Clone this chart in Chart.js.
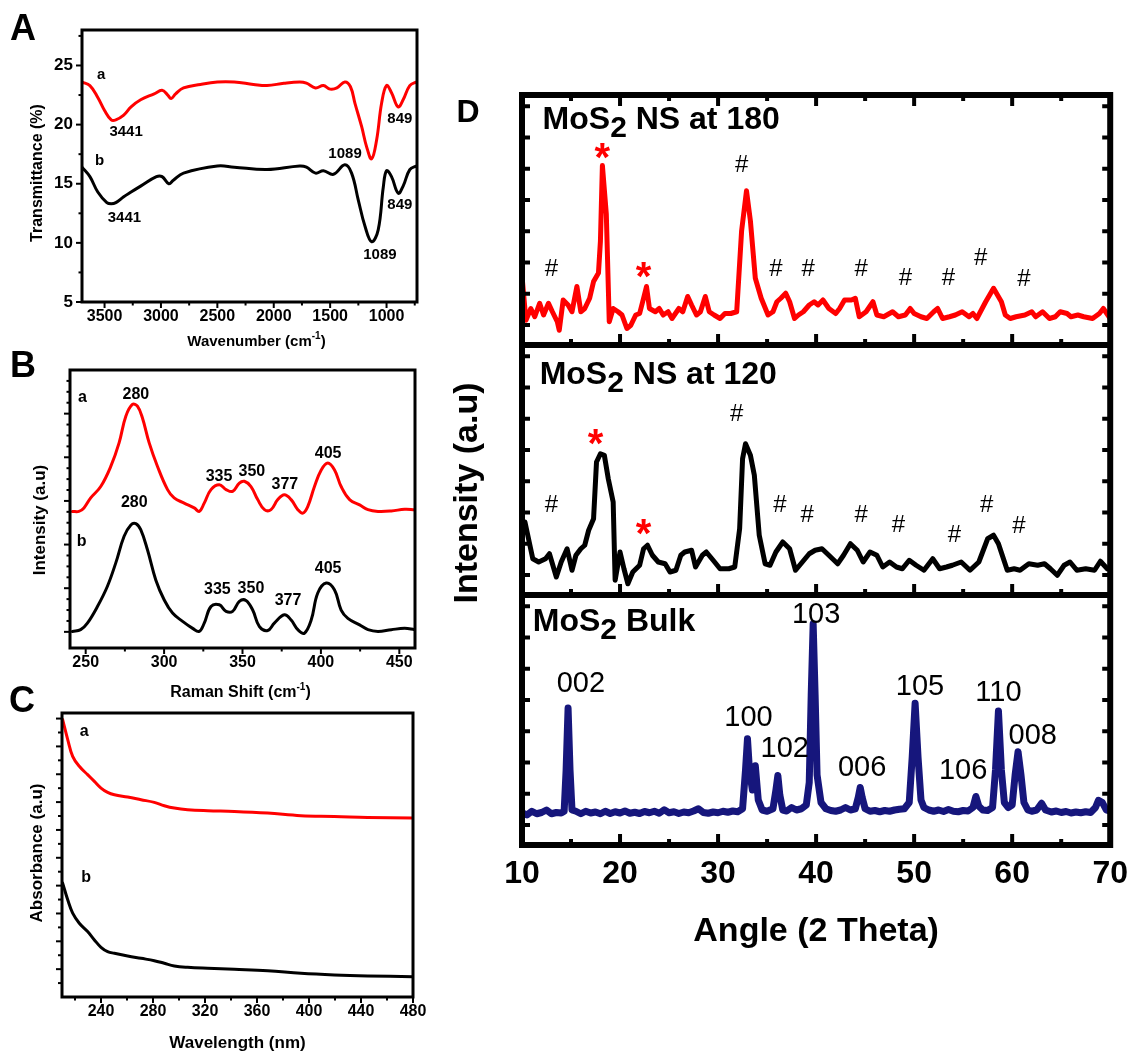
<!DOCTYPE html>
<html>
<head>
<meta charset="utf-8">
<script src="https://cdn.jsdelivr.net/npm/chart.js@4.4.0/dist/chart.umd.min.js"></script>
<style>
  html, body { margin: 0; padding: 0; background: #fff; }
  #wrap { position: relative; width: 1138px; height: 1052px; overflow: hidden; background: #fff; }
  canvas { position: absolute; }
</style>
</head>
<body>
<div id="wrap">
  <canvas id="chartA" width="440" height="360" style="left:0;top:0"></canvas>
  <canvas id="chartB" width="440" height="370" style="left:0;top:340px"></canvas>
  <canvas id="chartC" width="440" height="372" style="left:0;top:680px"></canvas>
  <canvas id="chartD" width="698" height="1052" style="left:440px;top:0"></canvas>
</div>
<script>
// ---- panel A : FTIR ----
const aWaveRed = [3700,3630,3560,3500,3441,3400,3330,3265,3180,3060,2990,2940,2910,2870,2800,2650,2500,2350,2180,2060,1910,1770,1710,1630,1560,1500,1440,1370,1320,1280,1220,1176,1132,1088,1044,1000,956,897,853,794,735,700];
const aTransRed = [23.6,23.3,22.3,21.2,20.4,20.4,20.8,21.5,22.1,22.6,22.9,22.5,22.2,22.6,23.1,23.4,23.6,23.6,23.4,23.3,23.5,23.6,23.5,23.1,23.3,23.0,23.1,23.6,23.2,21.8,19.8,18.1,17.1,18.7,21.8,23.3,22.7,21.5,22.1,23.3,23.6,23.7];
const aWaveBlack = [3700,3630,3560,3480,3441,3400,3330,3265,3180,3040,2990,2930,2890,2800,2500,2350,2060,1770,1710,1630,1560,1470,1370,1310,1250,1191,1132,1074,1029,1000,956,897,853,794,735,700];
const aTransBlack = [16.4,15.6,14.3,13.4,13.3,13.4,13.9,14.3,14.8,15.6,15.6,15.0,15.3,15.9,16.5,16.4,16.2,16.5,16.4,15.9,16.1,15.8,16.6,15.9,13.6,11.4,10.1,11.1,14.7,16.1,15.6,14.2,14.8,16.2,16.5,16.6];
const aTickX = [3500,3000,2500,2000,1500,1000];
const aMinorX = [3250,2750,2250,1750,1250,750];
const aTickY = [5,10,15,20,25];
const aMinorY = [7.5,12.5,17.5,22.5,27.5];
const aNoteText = ['a','3441','1089','849','b','3441','1089','849'];
const aNoteX = [3529,3309,1368,882,3544,3324,1059,882];
const aNoteY = [24.2,19.4,17.5,20.5,16.9,12.1,9.0,13.2];

// ---- panel B : Raman ----
const bShiftRed = [241.5,245.7,248.9,253.2,259.6,266.0,271.3,275.6,279.8,283.0,286.2,290.5,295.8,302.2,306.4,312.8,319.2,322.4,325.6,329.9,335.2,339.5,343.7,348.0,351.2,355.4,359.7,364.0,368.2,372.5,376.7,381.0,385.3,388.5,391.6,395.9,400.2,404.4,408.7,412.9,418.3,424.7,430.0,436.4,444.9,453.4,459.8];
const bIntRed = [2.76,2.76,2.84,3.07,3.33,3.79,4.33,4.94,5.21,5.17,4.90,4.33,3.79,3.26,3.07,2.95,2.84,2.76,2.95,3.26,3.37,3.26,3.22,3.41,3.45,3.33,3.03,2.80,2.80,3.03,3.14,3.03,2.80,2.72,2.87,3.33,3.71,3.87,3.71,3.33,3.03,2.91,2.80,2.76,2.77,2.81,2.80];
const bShiftBlack = [241.5,246.8,251.1,257.5,263.8,269.2,274.5,278.8,282.0,285.1,289.4,294.7,300.1,305.4,311.8,318.2,322.4,325.6,329.9,335.2,339.5,343.7,348.0,352.2,356.5,360.8,366.1,370.3,376.7,381.0,385.3,389.5,393.8,398.0,403.4,408.7,412.9,417.2,424.7,430.0,436.4,444.9,453.4,459.8];
const bIntBlack = [0.01,0.05,0.20,0.58,1.04,1.58,2.19,2.45,2.48,2.34,1.88,1.19,0.73,0.43,0.24,0.08,0.01,0.20,0.58,0.62,0.47,0.47,0.70,0.72,0.50,0.12,0.03,0.20,0.39,0.27,0.05,-0.03,0.27,0.89,1.12,0.96,0.50,0.31,0.16,0.05,0.01,0.05,0.08,0.05];
const bTickX = [250,300,350,400,450];
const bMinorX = [275,325,375,425];
const bTickY = [0,1,2,3,4,5];
const bMinorY = [0.25,0.5,0.75,1.25,1.5,1.75,2.25,2.5,2.75,3.25,3.5,3.75,4.25,4.5,4.75,5.25,5.5,5.75];
const bNoteText = ['a','280','335','350','377','405','b','280','335','350','377','405'];
const bNoteX = [248,282,335,356,377,404.6,247.4,281,334,355.4,379,404.6];
const bNoteY = [5.37,5.44,3.56,3.67,3.37,4.08,2.06,2.96,0.96,0.99,0.71,1.44];

// ---- panel C : UV-vis ----
const cWave = [210.5,214.4,218.2,223.3,229.7,234.9,240,245.1,250.3,260.5,270.8,281.0,288.7,296.4,306.6,322.0,342.6,368.2,393.8,419.5,445.1,479.7];
const cAbsRed = [19.93,18.49,17.29,16.57,15.97,15.49,15.01,14.70,14.53,14.36,14.17,13.98,13.74,13.57,13.45,13.38,13.33,13.21,13.02,12.97,12.90,12.85];
const cAbsBlack = [8.18,6.98,6.02,5.30,4.70,4.10,3.57,3.26,3.14,2.95,2.78,2.61,2.42,2.23,2.13,2.06,1.99,1.89,1.70,1.58,1.51,1.46];
const cTickX = [240,280,320,360,400,440,480];
const cMinorX = [220,260,300,340,380,420,460];
const cTickY = [2,4,6,8,10,12,14,16,18,20];
const cMinorY = [1,3,5,7,9,11,13,15,17,19];
const cNoteText = ['a','b'];
const cNoteX = [227,228.5];
const cNoteY = [19.1,8.56];

// ---- panel D : XRD (three stacked traces) ----
const dAngle180 = [10.05,10.4,10.9,11.3,11.8,12.2,12.7,13.1,13.6,13.8,14.2,14.7,15.1,15.6,16.0,16.4,16.9,17.3,17.8,18.0,18.2,18.6,18.9,19.3,19.8,20.2,20.7,21.1,21.6,22.0,22.4,22.7,23.0,23.6,24.0,24.4,24.9,25.3,26.0,26.4,26.9,27.3,27.8,28.2,28.7,29.1,29.6,30.2,30.7,31.3,31.9,32.4,32.9,33.3,33.8,34.4,35.1,35.6,36.0,36.4,36.9,37.3,37.8,38.2,38.7,39.3,39.8,40.2,40.7,41.3,42.0,42.4,42.9,43.6,44.0,44.4,45.1,45.8,46.2,46.9,47.8,48.4,49.1,49.6,50.0,50.7,51.3,52.0,52.4,52.9,53.6,54.2,54.9,55.6,56.0,56.4,57.3,58.1,58.9,59.3,59.8,60.4,61.3,62.0,62.4,63.1,63.8,64.4,64.9,65.6,66.0,66.7,67.3,68.2,68.9,69.3,70.0];
const dInt180 = [25.4,9.9,14.6,11.3,16.7,12.0,16.7,13.3,9.3,5.9,18.0,16.0,13.3,23.4,13.3,14.6,18.7,25.4,28.8,41.5,71.8,52.3,9.3,14.6,13.3,12.0,6.6,7.9,12.0,12.6,18.7,23.4,14.6,13.3,14.6,12.0,13.3,10.6,14.6,13.3,19.4,16.0,12.0,13.3,19.4,13.3,12.0,10.6,12.6,12.6,13.3,45.6,61.7,49.6,26.7,18.7,12.0,13.3,17.3,18.7,20.7,17.3,10.6,12.0,13.3,16.0,17.3,16.0,18.0,14.6,12.6,14.6,18.0,18.0,18.7,11.3,13.3,17.3,12.0,11.3,13.3,11.3,12.0,14.6,12.6,11.3,10.6,13.3,14.6,10.6,11.3,12.0,13.3,11.3,12.6,10.6,17.3,22.7,17.3,12.0,10.6,11.3,12.0,13.3,11.3,13.3,10.6,11.3,13.3,12.6,11.3,12.0,11.3,10.6,12.6,14.6,10.6];
const dAngle120 = [10.3,11.1,11.7,12.4,12.8,13.5,14.0,14.6,15.1,15.5,16.0,16.4,16.8,17.3,17.6,18.0,18.4,18.8,19.3,19.5,20.0,20.4,20.8,21.3,22.0,22.4,22.8,23.3,23.9,24.6,25.1,25.7,26.2,26.6,27.3,27.7,28.4,28.8,29.5,30.2,31.1,31.7,32.2,32.5,32.8,33.3,33.7,34.2,34.8,35.3,35.9,36.6,37.3,37.9,38.6,39.3,39.9,40.6,41.3,42.2,42.8,43.5,44.2,44.8,45.5,46.2,46.8,47.5,48.2,48.8,49.5,50.2,51.0,51.9,52.6,53.3,53.9,54.8,55.7,56.6,57.5,58.1,58.6,59.5,60.2,60.8,61.7,62.6,63.3,63.9,64.6,65.3,65.9,66.6,67.5,68.4,69.0,69.7];
const dInt120 = [29.2,14.5,13.2,14.5,16.5,7.2,13.2,18.5,9.9,15.9,18.5,19.9,25.9,30.5,53.2,56.5,55.9,46.5,37.2,5.9,17.2,10.5,4.5,9.2,11.9,18.5,19.9,15.9,13.2,12.5,9.2,9.9,15.9,17.2,17.9,11.2,15.9,17.2,13.9,10.5,10.5,11.2,26.5,54.5,60.5,55.9,47.9,23.9,12.5,11.9,17.2,21.2,18.5,9.9,13.2,16.5,17.9,18.5,15.9,12.5,15.9,20.5,17.9,13.2,17.2,15.9,11.2,13.2,11.2,10.5,13.9,11.9,9.9,14.5,10.5,11.2,11.9,13.2,9.9,13.2,22.5,23.9,20.5,9.9,10.5,9.9,12.5,11.9,12.5,10.5,7.9,11.9,13.2,9.9,10.5,9.9,13.5,10.5];
const dAngleBulk = [10,10.5,11,11.5,12,12.5,13,13.5,14,14.3,14.5,14.7,14.9,15.1,15.5,16,16.5,17,17.5,18,18.5,19,19.5,20,20.5,21,21.5,22,22.5,23,23.5,24,24.5,25,25.5,26,26.5,27,27.5,28,28.5,29,29.5,30,30.5,31,31.5,32,32.5,32.8,33.0,33.2,33.5,33.8,34.1,34.5,35,35.6,35.9,36.1,36.3,36.6,37,37.5,38,38.5,39,39.3,39.5,39.7,39.9,40.1,40.5,41,41.5,42,42.5,43,43.5,44,44.3,44.5,44.7,45,45.5,46,46.5,47,47.5,48,48.5,49,49.5,49.8,50.1,50.4,50.7,51,51.5,52,52.5,53,53.5,54,54.5,55,55.5,56,56.3,56.6,57,57.5,58,58.3,58.6,58.9,59.2,59.6,60,60.3,60.6,60.9,61.2,61.6,62,62.5,63,63.4,64,64.5,65,65.5,66,66.5,67,67.5,68,68.5,68.8,69.2,69.6,70];
const dIntBulk = [13,12,13.5,12.5,13,14,12.5,13,12.8,13.5,30,54.8,30,14,13.5,12.5,13.5,12.8,13.2,12.5,13.5,12.6,13.3,12.8,13.6,12.7,13.1,12.6,13.4,12.9,13.5,12.7,14.1,12.9,13.3,12.6,13.2,12.9,13.6,14.5,13,12.7,13.2,12.9,13.5,13.1,13.6,13.3,14.5,30,42.5,30,22,31.7,18,14,13.5,14.5,22,27.8,20,14,13.6,15,14,14.5,16,25,60,88.5,60,28,17,14.5,13.8,13.5,14,15,14,14.5,19,23,19,14.5,13.5,13.8,13.3,13.8,13.5,14,14.3,14.5,17,35,56.7,35,18,15,14,13.5,14,13.4,14.2,13.5,13.3,13.8,13.6,15,19.4,15.5,14,13.8,15,30,53.6,30,17,15,16,28,37.3,28,17,14,13.5,14,16.7,14,13.2,13.6,13,13.4,12.8,13.2,12.9,13.3,13,15,17.9,17,14,13.5];
const dOffsets = [200, 100, 0];           // 180 on top, 120 middle, bulk bottom
const dTickX = [10,20,30,40,50,60,70];
const dMinorX = [15,25,35,45,55,65];
const dTickY = [8,20.5,33,45.5,58,70.5,83,95.5];
const dHash180X = [13.0,32.4,35.9,39.2,44.6,49.1,53.5,56.8,61.2];
const dHash180Y = [30.2,71.8,30.2,30.2,30.2,26.6,26.6,34.7,26.2];
const dStar180X = [18.2,22.4];
const dStar180Y = [77.8,30.2];
const dHash120X = [13.0,31.9,36.3,39.1,44.6,48.4,54.1,57.4,60.7];
const dHash120Y = [36,72.4,36,32,32,28,24,36,27.6];
const dStar120X = [17.5,22.4];
const dStar120Y = [63.2,27.2];
const dPeakText = ['002','100','102','103','006','105','106','110','008'];
const dPeakX = [16.0,33.1,36.8,40.0,44.7,50.6,55.0,58.6,62.1];
const dPeakY = [64.3,50.8,38.5,92,31,63.1,29.8,60.7,43.7];

const FONT = "'Liberation Sans', Arial, Helvetica, sans-serif";
const RED = '#ff0000';
const NAVY = '#16167c';
const bold = (s) => `bold ${s}px ${FONT}`;
const normal = (s) => `${s}px ${FONT}`;
const part = (t, font, dy) => ({ t, font, dy: dy || 0 });

function drawParts(ctx, parts, x, y, align) {
  let total = 0;
  const widths = parts.map(p => { ctx.font = p.font; const w = ctx.measureText(p.t).width; total += w; return w; });
  let cx = align === 'center' ? x - total / 2 : align === 'right' ? x - total : x;
  ctx.textAlign = 'left';
  ctx.textBaseline = 'middle';
  parts.forEach((p, i) => { ctx.font = p.font; ctx.fillText(p.t, cx, y + p.dy); cx += widths[i]; });
}

// frame, ticks and annotations, drawn with the chart's own scales
function makeDecor(cfg) {
  return {
    id: 'decor',
    afterDatasetsDraw(chart) {
      const ctx = chart.ctx, a = chart.chartArea;
      const sx = chart.scales.x, sy = chart.scales.y;
      ctx.save();
      ctx.strokeStyle = '#000';
      ctx.lineCap = 'butt';
      (cfg.ticks || []).forEach(t => {
        ctx.lineWidth = t.width;
        t.values.forEach(v => {
          t.at.forEach(at => {
            ctx.beginPath();
            if (t.axis === 'x') {
              const px = sx.getPixelForValue(v);
              const py = at.edge === 'bottom' ? a.bottom : at.edge === 'top' ? a.top : sy.getPixelForValue(at.value);
              ctx.moveTo(px, py);
              ctx.lineTo(px, py + at.dir * t.len);
            } else {
              const py = sy.getPixelForValue(v);
              const px = at.edge === 'left' ? a.left : a.right;
              ctx.moveTo(px, py);
              ctx.lineTo(px + at.dir * t.len, py);
            }
            ctx.stroke();
          });
        });
      });
      ctx.lineWidth = cfg.frame;
      (cfg.hlines || []).forEach(v => {
        const py = sy.getPixelForValue(v);
        ctx.beginPath();
        ctx.moveTo(a.left, py);
        ctx.lineTo(a.right, py);
        ctx.stroke();
      });
      ctx.strokeRect(a.left, a.top, a.right - a.left, a.bottom - a.top);

      (cfg.labels || []).forEach(l => {
        ctx.fillStyle = l.color || '#000';
        drawParts(ctx, l.parts, sx.getPixelForValue(l.x), sy.getPixelForValue(l.y), l.align || 'center');
      });
      (cfg.notes || []).forEach(n => {
        const bx = n.ax === 'left' ? a.left : n.ax === 'right' ? a.right : (a.left + a.right) / 2;
        const by = n.ay === 'top' ? a.top : n.ay === 'bottom' ? a.bottom : (a.top + a.bottom) / 2;
        ctx.save();
        ctx.translate(bx + n.dx, by + n.dy);
        if (n.rotate) ctx.rotate(-Math.PI / 2);
        ctx.fillStyle = '#000';
        drawParts(ctx, n.parts, 0, 0, 'center');
        ctx.restore();
      });
      ctx.restore();
    }
  };
}

function lineSet(xs, ys, color, width, smooth, offset) {
  return {
    data: xs.map((x, i) => ({ x: x, y: ys[i] + (offset || 0) })),
    borderColor: color,
    borderWidth: width,
    pointRadius: 0,
    fill: false,
    tension: smooth ? 0.4 : 0,
    borderJoinStyle: 'round',
    borderCapStyle: 'round'
  };
}

function axis(min, max, tickValues, size, fitKey, fitValue, padding, extra) {
  return Object.assign({
    type: 'linear',
    min: min,
    max: max,
    grid: { display: false, drawTicks: false },
    border: { display: false },
    afterBuildTicks: s => { s.ticks = tickValues.map(v => ({ value: v })); },
    afterFit: s => { s[fitKey] = fitValue; },
    ticks: {
      display: size > 0,
      autoSkip: false,
      maxRotation: 0,
      color: '#000',
      padding: padding,
      font: { family: FONT, size: size || 12, weight: 'bold' },
      callback: v => String(v)
    }
  }, extra || {});
}

function baseOptions(pad, scales) {
  return {
    animation: false,
    responsive: false,
    devicePixelRatio: 1,
    layout: { padding: pad },
    plugins: { legend: { display: false }, tooltip: { enabled: false } },
    scales: scales
  };
}

function textLabels(texts, xs, ys, font, color) {
  return texts.map((t, i) => ({ parts: [part(t, font)], x: xs[i], y: ys[i], color: color }));
}

// ---------- A ----------
new Chart(document.getElementById('chartA'), {
  type: 'line',
  data: { datasets: [
    lineSet(aWaveRed, aTransRed, RED, 3, true),
    lineSet(aWaveBlack, aTransBlack, '#000', 3, true)
  ] },
  options: baseOptions({ top: 30, right: 23, left: 0, bottom: 0 }, {
    x: axis(730, 3700, aTickX, 16, 'height', 58, 5, { reverse: true }),
    y: axis(5, 28, aTickY, 17, 'width', 82, 9)
  }),
  plugins: [makeDecor({
    frame: 3,
    ticks: [
      { axis: 'x', values: aTickX, len: 6, width: 2, at: [{ edge: 'bottom', dir: 1 }] },
      { axis: 'x', values: aMinorX, len: 3.5, width: 2, at: [{ edge: 'bottom', dir: 1 }] },
      { axis: 'y', values: aTickY, len: 6, width: 2, at: [{ edge: 'left', dir: -1 }] },
      { axis: 'y', values: aMinorY, len: 3.5, width: 2, at: [{ edge: 'left', dir: -1 }] }
    ],
    labels: textLabels(aNoteText, aNoteX, aNoteY, bold(15), '#000'),
    notes: [
      { parts: [part('A', bold(36))], ax: 'left', dx: -59, ay: 'top', dy: 0 },
      { parts: [part('Wavenumber (cm', bold(15)), part('-1', bold(10), -6), part(')', bold(15))], ax: 'center', dx: 7, ay: 'bottom', dy: 40 },
      { parts: [part('Transmittance (%)', bold(16))], ax: 'left', dx: -44, ay: 'middle', dy: 7, rotate: true }
    ]
  })]
});

// ---------- B ----------
new Chart(document.getElementById('chartB'), {
  type: 'line',
  data: { datasets: [
    lineSet(bShiftRed, bIntRed, RED, 3, true),
    lineSet(bShiftBlack, bIntBlack, '#000', 3, true)
  ] },
  options: baseOptions({ top: 30, right: 25, left: 0, bottom: 0 }, {
    x: axis(240, 460, bTickX, 16, 'height', 62, 5),
    y: axis(-0.37, 6.0, bTickY, 0, 'width', 70, 0)
  }),
  plugins: [makeDecor({
    frame: 3,
    ticks: [
      { axis: 'x', values: bTickX, len: 6, width: 2, at: [{ edge: 'bottom', dir: 1 }] },
      { axis: 'x', values: bMinorX, len: 3.5, width: 2, at: [{ edge: 'bottom', dir: 1 }] },
      { axis: 'y', values: bTickY, len: 6, width: 2, at: [{ edge: 'left', dir: -1 }] },
      { axis: 'y', values: bMinorY, len: 3.5, width: 2, at: [{ edge: 'left', dir: -1 }] }
    ],
    labels: textLabels(bNoteText, bNoteX, bNoteY, bold(16), '#000'),
    notes: [
      { parts: [part('B', bold(36))], ax: 'left', dx: -47, ay: 'top', dy: -3 },
      { parts: [part('Raman Shift (cm', bold(16)), part('-1', bold(10), -6), part(')', bold(16))], ax: 'center', dx: -2, ay: 'bottom', dy: 45 },
      { parts: [part('Intensity (a.u)', bold(17))], ax: 'left', dx: -30, ay: 'middle', dy: 11, rotate: true }
    ]
  })]
});

// ---------- C ----------
new Chart(document.getElementById('chartC'), {
  type: 'line',
  data: { datasets: [
    lineSet(cWave, cAbsRed, RED, 3, true),
    lineSet(cWave, cAbsBlack, '#000', 3, true)
  ] },
  options: baseOptions({ top: 33, right: 27, left: 0, bottom: 0 }, {
    x: axis(210, 480, cTickX, 16, 'height', 55, 5),
    y: axis(0, 20.4, cTickY, 0, 'width', 62, 0)
  }),
  plugins: [makeDecor({
    frame: 3,
    ticks: [
      { axis: 'x', values: cTickX, len: 6, width: 2, at: [{ edge: 'bottom', dir: 1 }] },
      { axis: 'x', values: cMinorX, len: 3.5, width: 2, at: [{ edge: 'bottom', dir: 1 }] },
      { axis: 'y', values: cTickY, len: 6, width: 2, at: [{ edge: 'left', dir: -1 }] },
      { axis: 'y', values: cMinorY, len: 4, width: 2, at: [{ edge: 'left', dir: -1 }] }
    ],
    labels: textLabels(cNoteText, cNoteX, cNoteY, bold(16), '#000'),
    notes: [
      { parts: [part('C', bold(36))], ax: 'left', dx: -40, ay: 'top', dy: -11 },
      { parts: [part('Wavelength (nm)', bold(17))], ax: 'center', dx: 0, ay: 'bottom', dy: 46 },
      { parts: [part('Absorbance (a.u)', bold(17))], ax: 'left', dx: -25, ay: 'middle', dy: -2, rotate: true }
    ]
  })]
});

// ---------- D ----------
const dLabels = []
  .concat(dHash180X.map((x, i) => ({ parts: [part('#', normal(24))], x: x, y: dHash180Y[i] + dOffsets[0] })))
  .concat(dStar180X.map((x, i) => ({ parts: [part('*', bold(40), 9)], x: x, y: dStar180Y[i] + dOffsets[0], color: RED })))
  .concat(dHash120X.map((x, i) => ({ parts: [part('#', normal(24))], x: x, y: dHash120Y[i] + dOffsets[1] })))
  .concat(dStar120X.map((x, i) => ({ parts: [part('*', bold(40), 9)], x: x, y: dStar120Y[i] + dOffsets[1], color: RED })))
  .concat(textLabels(dPeakText, dPeakX, dPeakY.map(v => v + dOffsets[2]), normal(29), '#000'))
  .concat([
    { parts: [part('MoS', bold(32)), part('2', bold(30), 9), part(' NS at 180', bold(32))], x: 12.1, y: 90 + dOffsets[0], align: 'left' },
    { parts: [part('MoS', bold(32)), part('2', bold(30), 9), part(' NS at 120', bold(32))], x: 11.8, y: 88 + dOffsets[1], align: 'left' },
    { parts: [part('MoS', bold(32)), part('2', bold(30), 9), part(' Bulk', bold(32))], x: 11.1, y: 89.3 + dOffsets[2], align: 'left' }
  ]);

const dYTickValues = dOffsets.flatMap(o => dTickY.map(v => v + o));
const dRows = [
  { value: 0, dir: -1 }, { value: 100, dir: -1 }, { value: 200, dir: -1 }, { edge: 'top', dir: 1 }
];

new Chart(document.getElementById('chartD'), {
  type: 'line',
  data: { datasets: [
    lineSet(dAngle180, dInt180, RED, 5, false, dOffsets[0]),
    lineSet(dAngle120, dInt120, '#000', 5, false, dOffsets[1]),
    lineSet(dAngleBulk, dIntBulk, NAVY, 7, false, dOffsets[2])
  ] },
  options: baseOptions({ top: 95, right: 21, left: 0, bottom: 0 }, {
    x: axis(10, 70, dTickX, 32, 'height', 207, 10),
    y: axis(0, 300, [0, 100, 200, 300], 0, 'width', 82, 0)
  }),
  plugins: [makeDecor({
    frame: 6,
    hlines: [100, 200],
    ticks: [
      { axis: 'x', values: [20, 30, 40, 50, 60], len: 11, width: 4, at: dRows },
      { axis: 'x', values: dMinorX, len: 6, width: 4, at: dRows },
      { axis: 'y', values: dYTickValues, len: 8, width: 4, at: [{ edge: 'left', dir: 1 }, { edge: 'right', dir: -1 }] }
    ],
    labels: dLabels,
    notes: [
      { parts: [part('D', bold(32))], ax: 'left', dx: -54, ay: 'top', dy: 18 },
      { parts: [part('Angle (2 Theta)', bold(34))], ax: 'center', dx: 0, ay: 'bottom', dy: 87 },
      { parts: [part('Intensity (a.u)', bold(34))], ax: 'left', dx: -54, ay: 'middle', dy: 23, rotate: true }
    ]
  })]
});
</script>
</body>
</html>
